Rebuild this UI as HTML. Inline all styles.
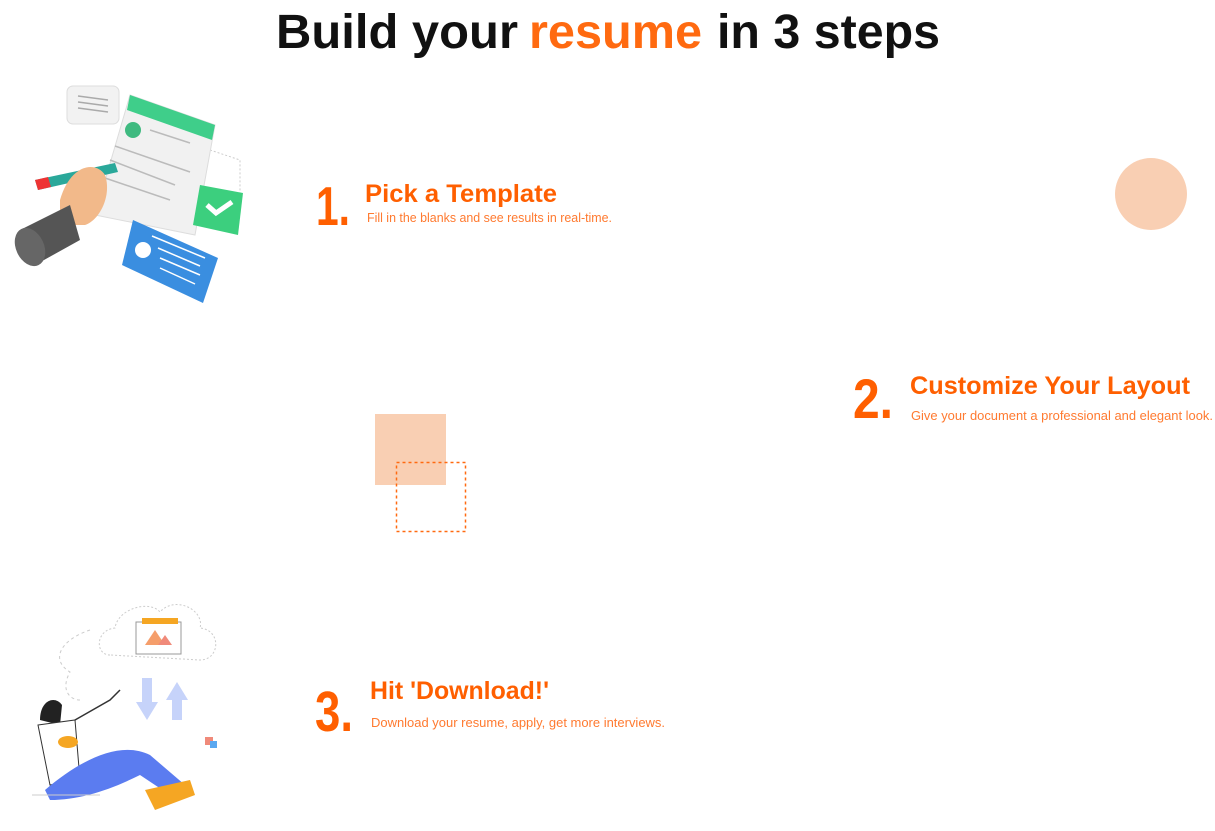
<!DOCTYPE html>
<html><head><meta charset="utf-8"><style>
html,body{margin:0;padding:0;background:#fff;width:1215px;height:831px;overflow:hidden}
svg{display:block}
text{font-family:"Liberation Sans",sans-serif}
</style></head><body>
<svg width="1215" height="831" viewBox="0 0 1215 831" xmlns="http://www.w3.org/2000/svg">
<!-- title -->
<text x="276" y="48" font-size="48" font-weight="bold" fill="#111" textLength="242" lengthAdjust="spacingAndGlyphs">Build your</text>
<text x="529" y="48" font-size="48" font-weight="bold" fill="#FF6A10" textLength="173" lengthAdjust="spacingAndGlyphs">resume</text>
<text x="717" y="48" font-size="48" font-weight="bold" fill="#111" textLength="223" lengthAdjust="spacingAndGlyphs">in 3 steps</text>

<!-- step 1 -->
<text x="316" y="225" font-size="55" font-weight="bold" fill="#FF5F00" textLength="34" lengthAdjust="spacingAndGlyphs">1.</text>
<text x="365" y="202" font-size="25" font-weight="bold" fill="#FF5F00" textLength="192" lengthAdjust="spacingAndGlyphs">Pick a Template</text>
<text x="367" y="222" font-size="13" fill="#FF7A30" textLength="245" lengthAdjust="spacingAndGlyphs">Fill in the blanks and see results in real-time.</text>

<!-- step 2 -->
<text x="853" y="418" font-size="56" font-weight="bold" fill="#FF5F00" textLength="40" lengthAdjust="spacingAndGlyphs">2.</text>
<text x="910" y="394" font-size="25" font-weight="bold" fill="#FF5F00" textLength="280" lengthAdjust="spacingAndGlyphs">Customize Your Layout</text>
<text x="911" y="420" font-size="13" fill="#FF7A30" textLength="302" lengthAdjust="spacingAndGlyphs">Give your document a professional and elegant look.</text>

<!-- step 3 -->
<text x="315" y="731" font-size="57" font-weight="bold" fill="#FF5F00" textLength="38" lengthAdjust="spacingAndGlyphs">3.</text>
<text x="370" y="699" font-size="25" font-weight="bold" fill="#FF5F00" textLength="179" lengthAdjust="spacingAndGlyphs">Hit 'Download!'</text>
<text x="371" y="727" font-size="13" fill="#FF7A30" textLength="294" lengthAdjust="spacingAndGlyphs">Download your resume, apply, get more interviews.</text>

<!-- decorations -->
<circle cx="1151" cy="194" r="36" fill="#F9CFB3"/>
<rect x="375" y="414" width="71" height="71" fill="#F9CFB3"/>
<rect x="396.5" y="462.5" width="69" height="69" fill="none" stroke="#FF6A10" stroke-width="1.5" stroke-dasharray="3,3"/>

<!-- illustration 1 -->
<g>
<rect x="67" y="86" width="52" height="38" rx="6" fill="#f2f2f2" stroke="#ddd"/>
<g stroke="#aaa" stroke-width="1.5"><line x1="78" y1="96" x2="108" y2="100"/><line x1="78" y1="102" x2="108" y2="106"/><line x1="78" y1="108" x2="108" y2="112"/></g>
<path d="M210 150 L240 160 L240 210 L225 215" fill="none" stroke="#ccc" stroke-dasharray="2,2"/>
<polygon points="130,95 215,125 195,235 95,215" fill="#f1f1f1" stroke="#ddd"/>
<polygon points="130,95 215,125 212,140 127,110" fill="#3fce8a"/>
<circle cx="133" cy="130" r="8" fill="#3fba80"/>
<g stroke="#bbb" stroke-width="1.5"><line x1="150" y1="130" x2="190" y2="143"/><line x1="115" y1="146" x2="190" y2="172"/><line x1="110" y1="160" x2="175" y2="185"/><line x1="105" y1="178" x2="170" y2="200"/></g>
<polygon points="200,185 243,193 238,235 193,225" fill="#3ccf7e"/>
<path d="M207 205 L216 213 L232 202" fill="none" stroke="#fff" stroke-width="5"/>
<polygon points="133,220 218,258 203,303 122,265" fill="#3a8ee0"/>
<circle cx="143" cy="250" r="8" fill="#fff"/>
<g stroke="#fff" stroke-width="1.5"><line x1="152" y1="236" x2="205" y2="258"/><line x1="158" y1="248" x2="200" y2="266"/><line x1="160" y1="258" x2="200" y2="275"/><line x1="160" y1="268" x2="195" y2="284"/></g>
<polygon points="35,180 115,163 118,172 38,190" fill="#2aa89a"/>
<polygon points="35,180 48,177 51,187 38,190" fill="#e33"/>
<path d="M60 200 C70 165 95 160 105 175 C112 195 100 220 85 225 L60 225 Z" fill="#f2b98a"/>
<path d="M20 230 L70 205 L80 240 L35 265 Z" fill="#555"/>
<ellipse cx="30" cy="247" rx="14" ry="20" fill="#666" transform="rotate(-25 30 247)"/>
</g>

<!-- illustration 3 -->
<g>
<path d="M110 655 C95 655 95 630 115 628 C118 608 150 600 160 612 C175 595 205 610 200 628 C222 630 220 660 200 660 Z" fill="#fff" stroke="#ccc" stroke-dasharray="2,2"/>
<rect x="136" y="622" width="45" height="32" fill="#fff" stroke="#999"/>
<rect x="142" y="618" width="36" height="6" fill="#f5a623"/>
<polygon points="145,645 155,630 165,645" fill="#f59e6b"/>
<polygon points="158,645 165,635 172,645" fill="#f08a7a"/>
<path d="M90 630 C60 640 50 660 70 672 C60 690 70 700 80 700" fill="none" stroke="#ccc" stroke-dasharray="3,3"/>
<polygon points="142,678 152,678 152,702 158,702 147,720 136,702 142,702" fill="#c6d3fa"/>
<polygon points="172,720 182,720 182,700 188,700 177,682 166,700 172,700" fill="#c6d3fa"/>
<rect x="205" y="737" width="8" height="8" fill="#f08a7a"/><rect x="210" y="741" width="7" height="7" fill="#5aa8f0"/>
<path d="M40 720 C40 700 55 695 62 705 L60 725 Z" fill="#222"/>
<path d="M38 725 L75 720 L80 780 L50 785 Z" fill="#fff" stroke="#333"/>
<ellipse cx="68" cy="742" rx="10" ry="6" fill="#f5a623"/>
<path d="M45 790 C80 760 120 740 150 755 L185 785 L170 795 L140 775 C110 790 80 800 50 800 Z" fill="#5b7cf0"/>
<path d="M145 790 L190 780 L195 795 L155 810 Z" fill="#f5a623"/>
<line x1="32" y1="795" x2="100" y2="795" stroke="#ccc"/>
<path d="M75 720 L110 700 L120 690" fill="none" stroke="#333" stroke-width="1.5"/>
</g>
</svg>
</body></html>
